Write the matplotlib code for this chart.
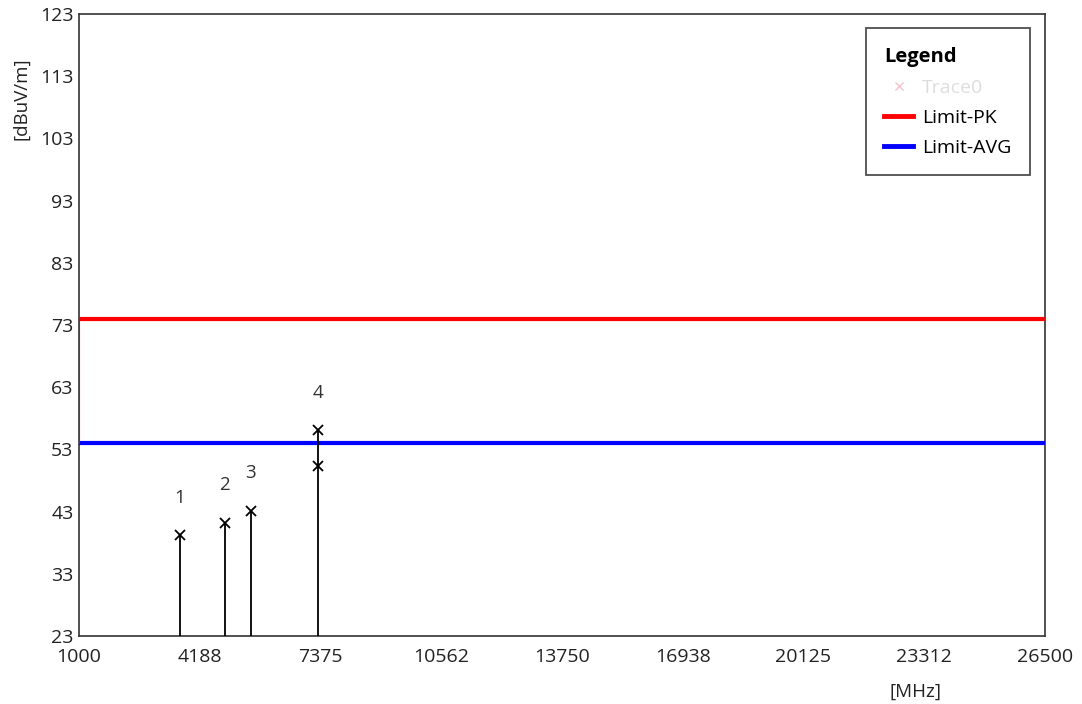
import matplotlib
matplotlib.use("Agg")
import matplotlib.pyplot as plt
from matplotlib.lines import Line2D

plt.rcParams['font.family'] = ['Open Sans', 'DejaVu Sans']

x_ticks = [1000, 4188, 7375, 10562, 13750, 16938, 20125, 23312, 26500]
y_ticks = [23, 33, 43, 53, 63, 73, 83, 93, 103, 113, 123]

limit_pk = 74.0
limit_avg = 54.0

marker_labels = ["1", "2", "3", "4"]
marker_freq = [3670, 4850, 5540, 7310]
marker_peak = [39.2, 41.2, 43.1, 56.1]
extra_freq = [7310]
extra_level = [50.3]

fig = plt.figure(figsize=(10.82, 7.04), dpi=100)
ax = fig.add_axes([0.073, 0.0966, 0.8928, 0.8834])
ax.set_xlim(1000, 26500)
ax.set_ylim(23, 123)

# limits
ax.plot([1000, 26500], [limit_pk, limit_pk], color='#ff0000', lw=3, solid_capstyle='butt', zorder=3)
ax.plot([1000, 26500], [limit_avg, limit_avg], color='#0000ff', lw=3, solid_capstyle='butt', zorder=3)
ax.plot([1000, 1000], [limit_avg, limit_pk], color='#d0004a', lw=1.5, zorder=3)

# stems + markers
for lab, f, v in zip(marker_labels, marker_freq, marker_peak):
    ax.plot([f, f], [23, v], color='black', lw=1.3, zorder=4)
    ax.plot(f, v, marker='x', color='black', ms=7, mew=1.3, zorder=5)
    ax.annotate(lab, (f, v), xytext=(0, 27), textcoords='offset points',
                ha='center', va='center', fontsize=13.5, color='#333333')
for f, v in zip(extra_freq, extra_level):
    ax.plot(f, v, marker='x', color='black', ms=7, mew=1.3, zorder=5)

ax.set_xticks(x_ticks)
ax.set_xticklabels([str(t) for t in x_ticks])
ax.set_yticks(y_ticks)
ax.set_yticklabels([str(t) for t in y_ticks])
ax.tick_params(axis='both', length=0, labelsize=14, colors='#222222')
ax.tick_params(axis='x', pad=9)
ax.tick_params(axis='y', pad=4)
for s in ax.spines.values():
    s.set_color('#333333')
    s.set_linewidth(1.2)

fig.text(0.02, 0.86, '[dBuV/m]', rotation=90, ha='center', va='center', fontsize=13.5, color='#222222')
fig.text(0.846, 0.018, '[MHz]', ha='center', va='center', fontsize=13.5, color='#222222')

handles = [
    Line2D([], [], color='#f4c4cc', marker='x', ls='none', ms=6),
    Line2D([], [], color='#ff0000', lw=3.5),
    Line2D([], [], color='#0000ff', lw=3.5),
]
leg = ax.legend(handles, ['Trace0', 'Limit-PK', 'Limit-AVG'], loc='upper right',
                bbox_to_anchor=(0.9845, 0.977), title='Legend', fontsize=14,
                frameon=True, fancybox=False, edgecolor='#222222', handlelength=1.5,
                borderpad=0.95, labelspacing=0.62, handletextpad=0.45, borderaxespad=0)
leg.get_frame().set_linewidth(1.3)
leg.get_title().set_fontweight('bold')
leg.get_title().set_fontsize(14.5)
leg._legend_box.align = 'left'
leg.get_texts()[0].set_color('#dddddd')

fig.savefig('out.png', dpi=100)
